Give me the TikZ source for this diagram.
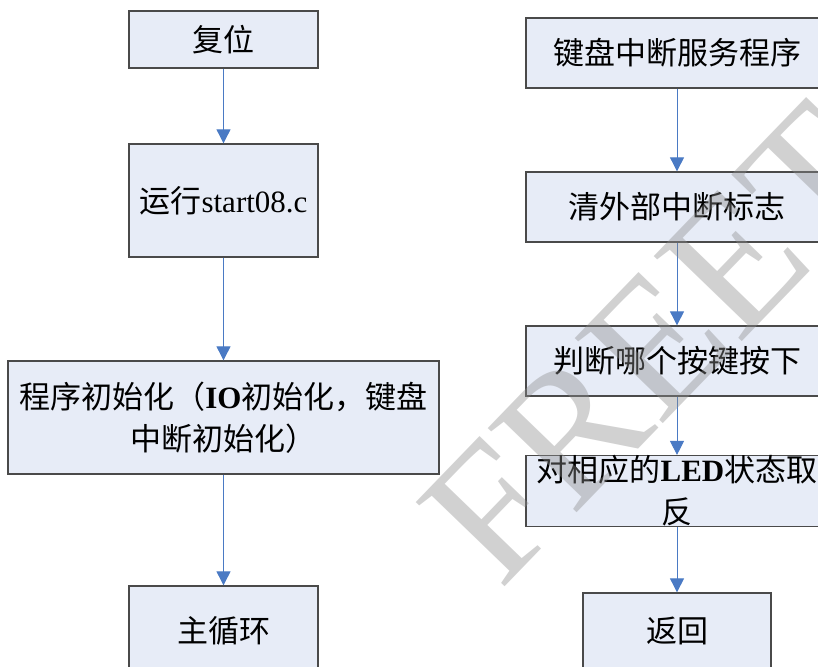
\documentclass[tikz,border=0pt]{standalone}
\usepackage{fontspec}
\setmainfont{Liberation Serif}
\newfontfamily\cjk{Noto Sans CJK SC}
\usetikzlibrary{arrows.meta}
\definecolor{boxfill}{HTML}{E7ECF7}
\definecolor{boxline}{HTML}{4A4A4A}
\definecolor{arrowblue}{HTML}{4A7AC4}
\definecolor{wmgray}{HTML}{8C8C8C}
\tikzset{
  box/.style={draw=boxline, fill=boxfill, line width=1.3pt, inner sep=0pt, align=center,
    font=\cjk\fontsize{31}{42}\selectfont},
  flow/.style={draw=arrowblue, line width=0.9pt, -{Triangle[width=14pt,length=14pt]}},
}
\begin{document}
\begin{tikzpicture}[x=1pt,y=-1pt]
\useasboundingbox (0,0) rectangle (818,666);
% left column
\node[box, minimum width=189pt, minimum height=57pt] (reset) at (223.5,39.5) {复位};
\node[box, minimum width=189pt, minimum height=113pt] (run) at (223.5,200.5) {运行{\rmfamily start08.c}};
\node[box, minimum width=431pt, minimum height=113pt] (init) at (223.5,417.5)
  {程序初始化（{\rmfamily\bfseries IO}初始化，键盘\\中断初始化）};
\node[box, minimum width=189pt, minimum height=90pt] (loop) at (223.5,631) {主循环};
% right column
\node[box, minimum width=302pt, minimum height=70pt] (isr) at (677,53) {键盘中断服务程序};
\node[box, minimum width=302pt, minimum height=70pt] (clr) at (677,207) {清外部中断标志};
\node[box, minimum width=302pt, minimum height=70pt] (judge) at (677,361) {判断哪个按键按下};
\node[box, minimum width=302pt, minimum height=70pt] (led) at (677,491) {对相应的{\rmfamily\bfseries LED}状态取\\反};
\node[box, minimum width=188pt, minimum height=76pt] (ret) at (677,631) {返回};
% connectors
\draw[flow] (reset) -- (run);
\draw[flow] (run) -- (init);
\draw[flow] (init) -- (loop);
\draw[flow] (isr) -- (clr);
\draw[flow] (clr) -- (judge);
\draw[flow] (judge) -- (led);
\draw[flow] (led) -- (ret);
% watermark
\node[rotate=46, anchor=base west, text=wmgray, opacity=0.4, inner sep=0pt,
  font=\fontsize{187}{187}\selectfont] (wm) at (500,592) {FREET};
\end{tikzpicture}
\end{document}
